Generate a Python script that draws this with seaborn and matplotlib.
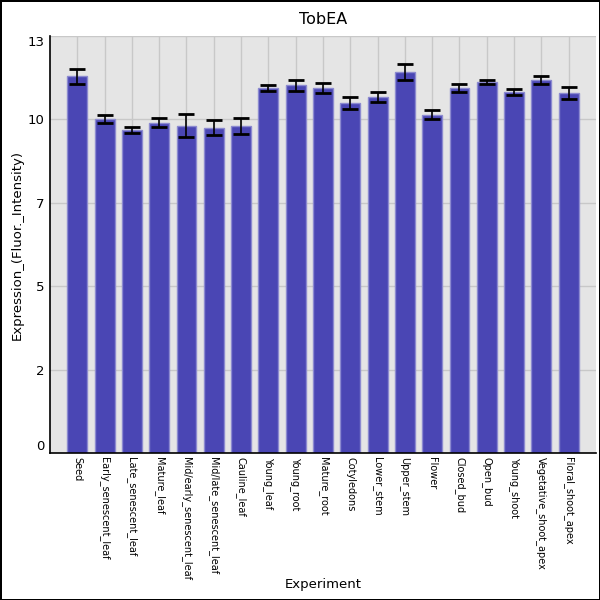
import matplotlib
matplotlib.use("Agg")
import matplotlib.pyplot as plt
import seaborn as sns
import numpy as np

samples = ["Seed", "Early_senescent_leaf", "Late_senescent_leaf", "Mature_leaf",
           "Mid/early_senescent_leaf", "Mid/late_senescent_leaf", "Cauline_leaf",
           "Young_leaf", "Young_root", "Mature_root", "Cotyledons", "Lower_stem",
           "Upper_stem", "Flower", "Closed_bud", "Open_bud", "Young_shoot",
           "Vegetative_shoot_apex", "Floral_shoot_apex"]
expression = [11.75, 10.42, 10.08, 10.30, 10.20, 10.14, 10.20, 11.38, 11.47, 11.39,
              10.92, 11.11, 11.88, 10.54, 11.38, 11.57, 11.26, 11.63, 11.23]
errors = [0.23, 0.12, 0.10, 0.15, 0.36, 0.23, 0.25, 0.08, 0.17, 0.16,
          0.18, 0.16, 0.24, 0.14, 0.11, 0.06, 0.10, 0.11, 0.18]
ytick_vals = [0, 2.6, 5.2, 7.8, 10.4, 13.0]

sns.set_style("whitegrid", {"axes.facecolor": "#e5e5e5", "grid.color": "#c8c8c8",
                            "axes.edgecolor": "black", "text.color": "black",
                            "axes.labelcolor": "black", "xtick.color": "black",
                            "ytick.color": "black"})

fig = plt.figure(figsize=(6, 6), dpi=100)
ax = fig.add_axes([0.0833, 0.2445, 0.91, 0.6955])

sns.barplot(x=samples, y=expression, color="#4a46b4", saturation=1, width=0.73,
            edgecolor="#8c8ad0", linewidth=1, ax=ax, zorder=2)
ax.errorbar(np.arange(len(samples)), expression, yerr=errors, fmt="none",
            ecolor="black", elinewidth=1.2, capsize=6, capthick=2, zorder=3)

ax.set_xlim(-1, len(samples))
ax.set_ylim(0, 13)
ax.set_yticks(ytick_vals)
labels = ax.set_yticklabels([str(int(v)) for v in ytick_vals], fontsize=9.5)
labels[0].set_va("bottom")
labels[-1].set_va("top")
ax.tick_params(axis="both", length=0, pad=4)
ax.tick_params(axis="x", labelsize=7, rotation=270, pad=3)
ax.grid(True, color="#c8c8c8", linewidth=1)
ax.set_axisbelow(True)

for side in ["top", "right"]:
    ax.spines[side].set_visible(False)
for side in ["left", "bottom"]:
    ax.spines[side].set_color("black")
    ax.spines[side].set_linewidth(1.2)

ax.set_title("TobEA", fontsize=11.5, pad=9)
ax.set_xlabel("Experiment", fontsize=9.5)
ax.set_ylabel("Expression_(Fluor._Intensity)", fontsize=9.5)
ax.xaxis.set_label_coords(0.5, -0.30)
ax.yaxis.set_label_coords(-0.048, 0.5)

fig.patch.set_edgecolor("black")
fig.patch.set_linewidth(2)

fig.savefig("out.png", dpi=100, edgecolor=fig.get_edgecolor())
